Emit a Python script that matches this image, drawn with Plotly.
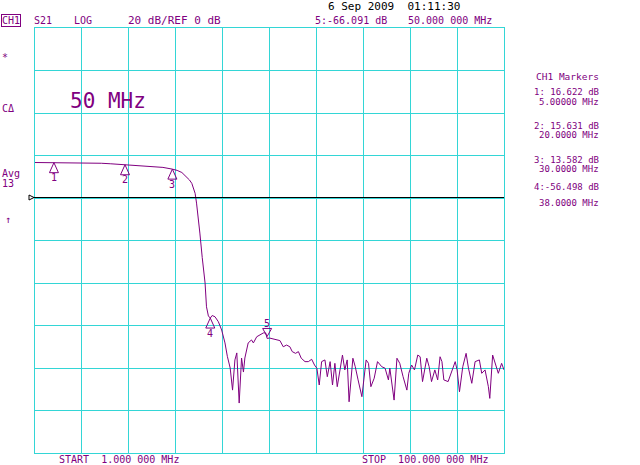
import plotly.graph_objects as go

# ---- data ----
freq_mhz = [1.0, 3.0, 5.0, 8.0, 10.0, 12.0, 15.0, 17.0, 20.0, 23.0, 26.0, 28.0, 30.0, 31.0, 32.0, 33.0,
            33.6, 34.1, 34.5, 34.8, 35.1, 35.4, 35.8, 36.3, 36.9, 37.2, 37.6, 38.0, 38.4, 39.0, 39.7,
            40.4, 41.1, 41.6, 42.2, 42.7, 43.2, 43.6, 44.1, 44.6, 45.0, 45.3, 46.0, 46.7, 47.1, 47.8,
            48.5, 49.2, 49.7, 50.0, 50.5, 51.3, 51.7, 52.7, 53.4, 54.1, 54.8, 55.3, 56.0, 56.6, 57.2,
            58.0, 58.7, 59.4, 60.0, 60.5, 61.0, 61.5, 62.2, 62.7, 63.3, 63.8, 64.3, 64.8, 65.9, 66.4,
            66.9, 67.3, 68.1, 68.6, 69.2, 70.0, 70.9, 71.4, 71.9, 72.6, 73.3, 74.2, 74.9, 75.6, 75.9,
            76.4, 76.8, 77.4, 78.0, 78.7, 79.5, 79.9, 80.5, 81.1, 81.8, 82.3, 82.8, 83.7, 84.2, 84.7,
            85.4, 86.0, 86.5, 86.9, 87.3, 88.2, 89.0, 89.7, 90.1, 90.6, 91.3, 92.0, 92.5, 93.2, 93.9,
            94.8, 95.3, 96.0, 96.7, 97.0, 97.6, 98.3, 98.8, 99.5, 100.0]
s21_db = [16.7, 16.68, 16.62, 16.6, 16.55, 16.5, 16.35, 16.1, 15.63, 15.2, 14.8, 14.4, 13.58, 13.0, 12.0, 10.0,
          8.5, 6.9, 4.5, 2.2, -2.4, -8.0, -16.5, -28.0, -40.0, -51.2, -55.5, -56.5, -55.3, -55.9, -58.2,
          -62.1, -68.2, -74.5, -80.0, -90.4, -76.2, -72.9, -96.5, -75.3, -81.9, -75.3, -68.2, -66.8, -68.2, -65.3,
          -64.5, -63.5, -63.5, -66.09, -65.9, -66.4, -66.8, -67.1, -70.0, -69.2, -70.0, -72.3, -73.1, -72.3, -75.4,
          -77.0, -77.0, -75.9, -78.6, -80.1, -88.0, -77.0, -76.2, -84.1, -77.0, -88.0, -77.8, -88.8, -73.9, -80.9,
          -76.2, -95.9, -75.4, -79.4, -85.6, -93.5, -76.2, -77.8, -88.8, -84.8, -77.0, -79.4, -80.1, -85.6, -80.1,
          -88.8, -95.1, -75.4, -77.8, -84.1, -90.4, -82.5, -78.6, -80.9, -73.9, -74.7, -86.4, -75.4, -79.4, -86.4,
          -80.9, -85.6, -74.7, -77.0, -85.6, -86.4, -80.9, -77.0, -80.9, -91.2, -79.4, -73.1, -80.1, -87.2, -77.0,
          -76.2, -82.5, -80.9, -88.8, -94.3, -73.9, -79.4, -82.5, -77.8, -80.9]

marker_ids = ["1", "2", "3", "4", "5"]
marker_freq = [5.0, 20.0, 30.0, 38.0, 50.0]
marker_db = [16.622, 15.631, 13.582, -56.498, -66.091]

start_mhz, stop_mhz = 1.0, 100.0
ref_db, db_per_div = 0.0, 20.0

# ---- style ----
PURPLE = "#800080"
GRID = "#33d6d6"
MONO = "DejaVu Sans Mono"

L, R, T, B = 35, 504, 28, 453
W, H = 640, 465


def P(x, y):
    return (x - L) / (R - L), (B - y) / (B - T)


fig = go.Figure()
fig.add_trace(go.Scatter(x=freq_mhz, y=s21_db, mode="lines",
                         line=dict(color=PURPLE, width=1), hoverinfo="skip"))

annotations = []


def txt(text, x, y, anchor="left", size=10, color=PURPLE, **kw):
    px, py = P(x, y)
    annotations.append(dict(text=text, x=px, y=py, xref="paper", yref="paper",
                            xanchor=anchor, yanchor="middle", showarrow=False,
                            font=dict(family=MONO, size=size, color=color), **kw))


NB = "\u00a0"
# header
txt("CH1", 1, 20, size=10, bordercolor=PURPLE, borderwidth=1, borderpad=0)
txt("S21", 32, 20)
txt("LOG", 72, 20)
txt(f"20 dB/REF{NB}0 dB", 126, 20, size=11)
txt(f"5:{marker_db[4]:.3f} dB", 313, 20)
txt(f"50.000{NB}000 MHz", 406, 20)
txt(f"6 Sep 2009{NB}{NB}01:11:30", 326, 6, size=11, color="black")
# left status
txt("*", 0, 58)
txt("C\u0394", 0, 108)
txt("Avg", 0, 173)
txt("13", 0, 183)
txt("\u2191", 3, 219)
# big label
txt(f"50{NB}MHz", 68, 101, size=21)
# right marker panel
txt("CH1 Markers", 601, 76, anchor="right", size=9.5)
panel_y = [(92, 102), (126, 135), (160, 169), (187, 203)]
for i in range(4):
    sep = " " if marker_db[i] >= 0 else ""
    txt(f"{marker_ids[i]}:{sep}{marker_db[i]:.3f} dB", 601, panel_y[i][0], anchor="right", size=9)
    fs = f"{marker_freq[i]:.5f}" if marker_freq[i] < 10 else f"{marker_freq[i]:.4f}"
    txt(f"{fs} MHz", 601, panel_y[i][1], anchor="right", size=9)
# bottom
txt(f"START{NB}{NB}1.000{NB}000 MHz", 57, 459)
txt(f"STOP{NB}{NB}100.000{NB}000 MHz", 360, 459)

shapes = []
# reference line (crisp 1px, black)
shapes.append(dict(type="line", xref="paper", yref="y", ysizemode="pixel", yanchor=ref_db,
                   x0=-6 / (R - L), x1=1, y0=0.5, y1=0.5,
                   line=dict(color="black", width=1)))
shapes.append(dict(type="path", xref="paper", yref="y", xsizemode="pixel", ysizemode="pixel",
                   xanchor=0, yanchor=ref_db, path="M-6,3 L-6,-2 L-1,0.5 Z",
                   line=dict(color="black", width=1), fillcolor="white"))

# markers
for i, (mid, f, d) in enumerate(zip(marker_ids, marker_freq, marker_db)):
    if i < 4:
        path = "M0,0 L-4.5,-10 L4.5,-10 Z"
        ys = -15
    else:
        path = "M0,2 L-4.5,10 L4.5,10 Z"
        ys = 15
    shapes.append(dict(type="path", xref="x", yref="y", xsizemode="pixel", ysizemode="pixel",
                       xanchor=f, yanchor=d, path=path, line=dict(color=PURPLE, width=1)))
    annotations.append(dict(text=mid, x=f, y=d, xref="x", yref="y", showarrow=False,
                            yshift=ys, font=dict(family=MONO, size=10, color=PURPLE)))

fig.update_layout(
    width=W, height=H, autosize=False,
    margin=dict(l=L, r=W - R, t=T, b=H - B, pad=0, autoexpand=False),
    paper_bgcolor="white", plot_bgcolor="white",
    showlegend=False,
    annotations=annotations, shapes=shapes,
    xaxis=dict(range=[start_mhz, stop_mhz], dtick=(stop_mhz - start_mhz) / 10, tick0=start_mhz,
               showgrid=True, gridcolor=GRID, gridwidth=1, showticklabels=False, ticks="",
               zeroline=False, showline=True, linecolor=GRID, linewidth=1, mirror=True),
    yaxis=dict(range=[ref_db - 6 * db_per_div, ref_db + 4 * db_per_div], dtick=db_per_div, tick0=ref_db,
               showgrid=True, gridcolor=GRID, gridwidth=1, showticklabels=False, ticks="",
               zeroline=False, showline=True, linecolor=GRID, linewidth=1, mirror=True),
)

fig.write_html("out.html", config={"displayModeBar": False},
               post_script="document.body.style.margin='0';document.body.style.overflow='hidden';")
